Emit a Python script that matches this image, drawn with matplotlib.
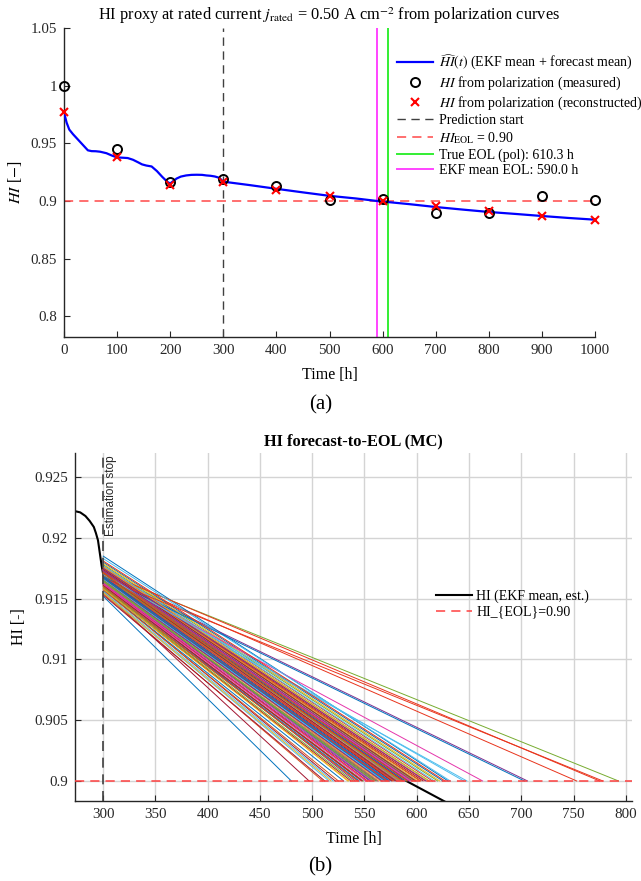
import matplotlib
matplotlib.use("Agg")
import matplotlib.pyplot as plt
from matplotlib.ticker import FuncFormatter

plt.rcParams['font.family'] = ['Liberation Serif', 'DejaVu Serif']
plt.rcParams['mathtext.fontset'] = 'stix'
plt.rcParams['font.size'] = 10.5

# ---- panel (a) data ----
t_hat = [0, 5, 10, 17, 25, 35, 45, 52, 60, 68, 80, 90, 100, 110, 120, 130, 140, 147,
         155, 165, 175, 185, 195, 200, 205, 212, 220, 230, 240, 250, 260, 268, 276,
         284, 290, 295, 300, 350, 400, 450, 500, 550, 590, 650, 700, 750, 800, 850,
         900, 950, 1000]
hi_hat = [0.977, 0.968, 0.962, 0.958, 0.954, 0.949, 0.944, 0.9433, 0.9432, 0.9428,
          0.9415, 0.9395, 0.9378, 0.9376, 0.9373, 0.9358, 0.9335, 0.9318, 0.9308,
          0.930, 0.926, 0.921, 0.9165, 0.9152, 0.9170, 0.9195, 0.9212, 0.9222,
          0.9227, 0.9228, 0.9227, 0.9222, 0.9219, 0.9213, 0.9205, 0.9190, 0.9168,
          0.9138, 0.9106, 0.9075, 0.9045, 0.9022, 0.9000, 0.8973, 0.8948, 0.8926,
          0.8905, 0.8888, 0.8870, 0.8853, 0.8838]

t_pol = [0, 100, 200, 300, 400, 500, 600, 700, 800, 900, 1000]
hi_meas = [1.000, 0.9448, 0.9165, 0.9194, 0.9128, 0.9006, 0.9018, 0.8900, 0.8893, 0.9040, 0.9006]
hi_rec = [0.977, 0.9379, 0.9140, 0.9165, 0.9100, 0.9046, 0.8998, 0.8954, 0.8912, 0.8870, 0.8838]

t_pred_start = 300
hi_eol = 0.90
eol_true = 610.3
eol_ekf = 590.0

# ---- panel (b) data ----
t_est = [273, 278, 283, 287, 291, 293, 295, 297, 298.5, 300, 590, 640]
hi_est = [0.9222, 0.9221, 0.9218, 0.9214, 0.9209, 0.9204, 0.9198, 0.9186, 0.9177,
          0.9170, 0.9000, 0.8977]

mc_t0 = 300
mc_eol = [480, 563, 597, 541, 612, 575, 522, 588, 753, 556,
          603, 534, 579, 620, 568, 497, 593, 547, 630, 571,
          560, 706, 585, 516, 606, 552, 577, 625, 544, 590,
          566, 793, 600, 537, 582, 615, 558, 510, 595, 573,
          549, 648, 587, 563, 608, 530, 578, 622, 555, 598,
          569, 512, 583, 775, 545, 604, 565, 592, 539, 617,
          576, 663, 553, 589, 525, 601, 561, 581, 632, 548,
          594, 572, 703, 543, 611, 567, 584, 520, 599, 557,
          778, 574, 591, 535, 609, 562, 645, 580, 551, 627,
          570, 586, 518, 596, 559]
mc_hi0 = [0.9152, 0.9168, 0.9171, 0.9163, 0.9176, 0.9166, 0.9158, 0.9172, 0.9170, 0.9165,
          0.9174, 0.9160, 0.9169, 0.9178, 0.9164, 0.9156, 0.9173, 0.9161, 0.9185, 0.9167,
          0.9162, 0.9169, 0.9171, 0.9155, 0.9175, 0.9163, 0.9170, 0.9180, 0.9159, 0.9172,
          0.9166, 0.9171, 0.9174, 0.9158, 0.9168, 0.9177, 0.9165, 0.9154, 0.9173, 0.9167,
          0.9161, 0.9166, 0.9170, 0.9164, 0.9176, 0.9157, 0.9169, 0.9179, 0.9162, 0.9174,
          0.9166, 0.9153, 0.9171, 0.9172, 0.9160, 0.9175, 0.9165, 0.9173, 0.9159, 0.9177,
          0.9168, 0.9168, 0.9162, 0.9172, 0.9157, 0.9174, 0.9163, 0.9170, 0.9183, 0.9161,
          0.9173, 0.9167, 0.9168, 0.9160, 0.9176, 0.9165, 0.9171, 0.9156, 0.9174, 0.9163,
          0.9167, 0.9168, 0.9172, 0.9158, 0.9175, 0.9164, 0.9170, 0.9171, 0.9162, 0.9181,
          0.9167, 0.9171, 0.9155, 0.9173, 0.9165]
mc_colors = ['#0072BD', '#D95319', '#EDB120', '#7E2F8E', '#77AC30',
             '#4DBEEE', '#A2142F', '#E535AB', '#E8341C']

axcol = '#262626'
fig = plt.figure(figsize=(6.41, 8.81), dpi=100)

# ================= (a) =================
ax1 = fig.add_axes([0.0998, 0.6175, 0.8285, 0.3505])
ax1.plot(t_hat, hi_hat, color='#0000FF', lw=1.6,
         label=r'$\widehat{HI}(t)$ (EKF mean + forecast mean)', zorder=3)
ax1.plot(t_pol, hi_meas, 'o', mfc='none', mec='black', mew=1.4, ms=6.5, clip_on=False,
         label=r'$HI$ from polarization (measured)', zorder=4)
ax1.plot(t_pol, hi_rec, 'x', color='#FF0000', mew=1.5, ms=6, clip_on=False,
         label=r'$HI$ from polarization (reconstructed)', zorder=5)
ax1.axvline(t_pred_start, color='#404040', ls=(0, (6, 4)), lw=1.0, label='Prediction start')
ax1.axhline(hi_eol, color='#FF4848', ls=(0, (6, 4)), lw=1.1,
            label=r'$HI_{\rm EOL}$ = 0.90')
ax1.axvline(eol_true, color='#33EE33', lw=1.4, label='True EOL (pol): %.1f h' % eol_true)
ax1.axvline(eol_ekf, color='#FF44FF', lw=1.4, label='EKF mean EOL: %.1f h' % eol_ekf)

ax1.set_xlim(0, 1000)
ax1.set_ylim(0.782, 1.05)
ax1.set_xticks(range(0, 1001, 100))
ax1.set_yticks([0.8, 0.85, 0.9, 0.95, 1.0, 1.05])
ax1.yaxis.set_major_formatter(FuncFormatter(lambda v, p: '%g' % round(v, 3)))
ax1.set_xlabel('Time [h]', fontsize=11.5, labelpad=7)
ax1.set_ylabel(r'$HI$ [$-$]', fontsize=11.5, labelpad=5)
ax1.set_title(r'HI proxy at rated current $j_{\rm rated}$ = 0.50 A cm$^{-2}$ from polarization curves',
              fontsize=11.8, pad=6)
for s in ['top', 'right']:
    ax1.spines[s].set_visible(False)
for s in ['left', 'bottom']:
    ax1.spines[s].set_color(axcol)
    ax1.spines[s].set_linewidth(1.0)
ax1.tick_params(direction='in', colors=axcol, length=4, pad=5, labelsize=10.8)
ax1.legend(loc='upper left', bbox_to_anchor=(397 / 641, 1 - 53 / 881),
           bbox_transform=fig.transFigure, frameon=False, fontsize=10,
           handlelength=2.6, handletextpad=0.4, labelspacing=0.18,
           borderaxespad=0, borderpad=0)

fig.text(0.5, 1 - 405 / 881, '(a)', ha='center', va='center', fontsize=15)

# ================= (b) =================
ax2 = fig.add_axes([0.117, 0.0908, 0.869, 0.3952])
ax2.grid(True, color='#d4d4d4', lw=1.0)
ax2.set_axisbelow(True)
ax2.plot(t_est, hi_est, color='black', lw=1.5, label='HI (EKF mean, est.)', zorder=2)
for i in range(len(mc_eol)):
    ax2.plot([mc_t0, mc_eol[i]], [mc_hi0[i], hi_eol],
             color=mc_colors[i % len(mc_colors)], lw=0.7, zorder=3)
ax2.axhline(hi_eol, color='#FF4040', ls=(0, (6, 4)), lw=1.1,
            label='HI_{EOL}=0.90', zorder=4)
ax2.axvline(mc_t0, color='#404040', ls=(0, (6, 4)), lw=1.2, zorder=4)
ax2.text(mc_t0 + 2, 0.9268, 'Estimation stop', rotation=90, ha='left', va='top',
         family=['Liberation Sans', 'DejaVu Sans'], fontsize=8.5, color='#262626')

ax2.set_xlim(273, 806)
ax2.set_ylim(0.89835, 0.927)
ax2.set_xticks(range(300, 801, 50))
ax2.set_yticks([0.9, 0.905, 0.91, 0.915, 0.92, 0.925])
ax2.yaxis.set_major_formatter(FuncFormatter(lambda v, p: '%g' % round(v, 4)))
ax2.set_xlabel('Time [h]', fontsize=11.5, labelpad=7)
ax2.set_ylabel('HI [-]', fontsize=11.5, labelpad=5)
ax2.set_title('HI forecast-to-EOL (MC)', fontsize=11.8, fontweight='bold', pad=5)
for s in ['top', 'right']:
    ax2.spines[s].set_visible(False)
for s in ['left', 'bottom']:
    ax2.spines[s].set_color(axcol)
    ax2.spines[s].set_linewidth(1.0)
ax2.tick_params(direction='in', colors=axcol, length=4, pad=5, labelsize=10.8)
ax2.legend(loc='upper left', bbox_to_anchor=(436 / 641, 1 - 590 / 881),
           bbox_transform=fig.transFigure, frameon=False, fontsize=10,
           handlelength=2.6, handletextpad=0.3, labelspacing=0.15,
           borderaxespad=0, borderpad=0)

fig.text(0.5, 1 - 867 / 881, '(b)', ha='center', va='center', fontsize=15)

fig.savefig('out.png', dpi=100)
